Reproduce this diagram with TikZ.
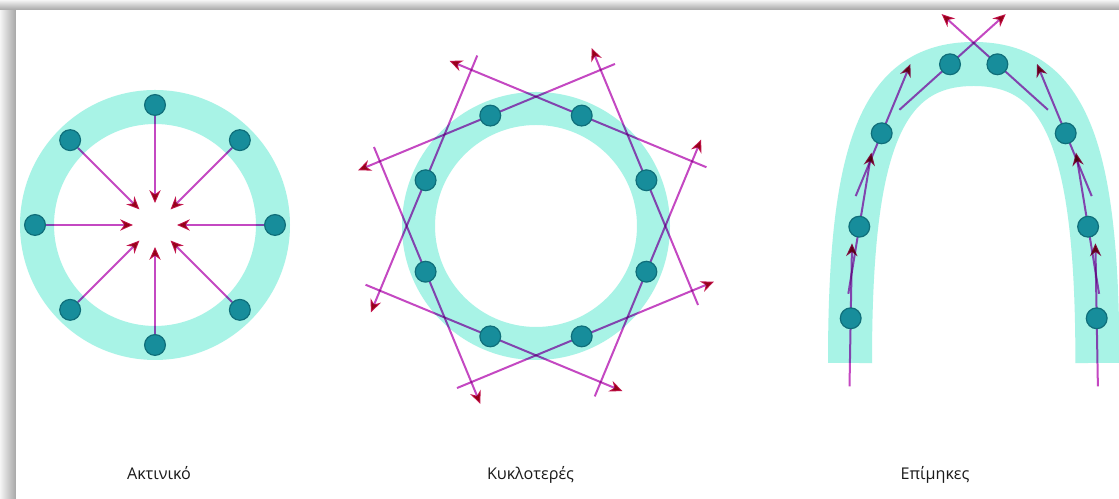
\documentclass[tikz,border=0pt]{standalone}
\usepackage{fontspec}
\newfontfamily\labfont{Open Sans}
\usepackage{tikz}
\usetikzlibrary{arrows.meta,calc,backgrounds}
\definecolor{ringcyan}{HTML}{A8F3E6}
\definecolor{dotteal}{HTML}{178D9B}
\definecolor{dotedge}{HTML}{0F6E7A}
\definecolor{linemag}{HTML}{C448C2}
\definecolor{tipred}{HTML}{C2134A}
\definecolor{labdark}{HTML}{1A1A1A}
\tikzset{
  dot/.style={circle,draw=dotedge,fill=dotteal,line width=0.3mm,
              minimum size=5.2mm,inner sep=0pt},
  band/.style={fill=ringcyan,even odd rule},
  archband/.style={draw=ringcyan,line width=11mm},
  tline/.style={draw=linemag,line width=0.5mm,
                -{Stealth[length=3.2mm,width=2.8mm,color=tipred]}},
  lab/.style={font=\labfont\fontsize{11.5}{13}\selectfont,text=labdark,anchor=base},
}
\begin{document}
\begin{tikzpicture}[x=0.25mm,y=0.25mm]
  \useasboundingbox (0,0) rectangle (1119,499);
  % frame with its shadow
  \begin{scope}[on background layer]
    \shade[left color=gray!8,right color=gray!70] (0,0) rectangle (16,499);
    \shade[top color=gray!8,bottom color=gray!70] (0,489) rectangle (1119,499);
    \fill[white] (16,0) rectangle (1119,489);
  \end{scope}
  % radial
  \coordinate (radc) at (155,274);
  \foreach \i in {1,...,8}
    \node[dot] (rad\i) at ($(radc)+(45*\i:120)$) {};
  % circular
  \coordinate (cycc) at (536,273);
  \foreach \i [evaluate=\i as \a using 45*\i-22.5] in {1,...,8}
    \node[dot] (cyc\i) at ($(cycc)+(\a:119.5)$) {};
  % elongated
  \foreach \n/\x/\y in {1/850.7/180.7,2/859.3/272.3,3/881.7/365.7,4/950/434.7,
                        5/997.4/434.7,6/1065.7/365.7,7/1088.1/272.3,8/1096.7/180.7}
    \node[dot] (arc\n) at (\x,\y) {};
  \begin{scope}[on background layer]
    \fill[band] (radc) circle[radius=135] circle[radius=101];
    \fill[band] (cycc) circle[radius=134] circle[radius=101];
    \draw[archband] (850,136) .. controls (850,349) and (880,435) .. (973.7,435)
      .. controls (1067.4,435) and (1097.4,349) .. (1097.4,136);
    \begin{scope}[blend mode=multiply]
      \foreach \i in {1,...,8}
        \draw[tline,shorten >=5.5mm] (rad\i) -- (radc);
      \foreach \i [evaluate=\i as \a using 45*\i-22.5] in {1,...,8}
        \draw[tline] (cyc\i) ++(\a-90:135) -- ++(\a+90:278);
      \foreach \n/\ang in {1/89,2/80.7,3/67.5,4/42,5/138,6/112.5,7/99.3,8/91}
        \draw[tline] (arc\n) ++(\ang+180:68) -- ++(\ang:143);
    \end{scope}
  \end{scope}
  \node[lab] (labrad) at (159,19) {Ακτινικό};
  \node[lab] (labcyc) at (530.5,19) {Κυκλοτερές};
  \node[lab] (labarc) at (935,19) {Επίμηκες};
\end{tikzpicture}
\end{document}
